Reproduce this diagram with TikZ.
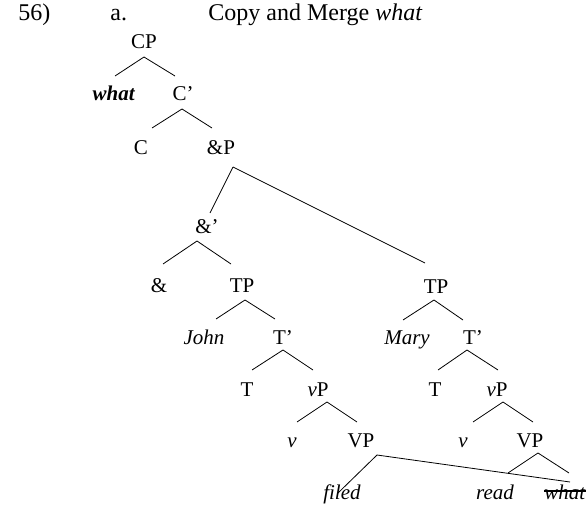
\documentclass[tikz,border=0pt]{standalone}
\usepackage{fontspec}
\setmainfont{Liberation Serif}
\usepackage{tikz}

\begin{document}
\begin{tikzpicture}[x=1pt,y=-1pt,line width=0.8pt,
  every node/.style={inner sep=0pt,anchor=base},
  head/.style={anchor=base west,font=\fontsize{24}{28}\selectfont},
  cat/.style={font=\fontsize{21}{25}\selectfont}]
\useasboundingbox (0,0) rectangle (588,505);
% heading
\path (18,21) node (num) [head] {56)};
\path (110,21) node (sub) [head] {a.};
\path (208,21) node (title) [head] {Copy and Merge \textit{what}};

% top of the tree
\path (144,49) node (cp) [cat] {CP};
\path (114,101) node (what) [cat] {\textbf{\textit{what}}};
\path (183,101) node (cbar) [cat] {C’};
\path (141,155) node (c) [cat] {C};
\path (221,155) node (andp) [cat] {\&P};
\path (207,233) node (andbar) [cat] {\&’};
\path (159,292) node (amp) [cat] {\&};

% first conjunct
\path (242,292) node (tpa) [cat] {TP};
\path (204,344) node (john) [cat] {\textit{John}};
\path (283,344) node (tbara) [cat] {T’};
\path (247,396) node (ta) [cat] {T};
\path (318,396) node (vpa) [cat] {\textit{v}P};
\path (292,447) node (va) [cat] {\textit{v}};
\path (361,447) node (vpsa) [cat] {VP};
\path (342,499) node (filed) [cat] {\textit{filed}};

% second conjunct
\path (436,293) node (tpb) [cat] {TP};
\path (407,344) node (mary) [cat] {\textit{Mary}};
\path (473,344) node (tbarb) [cat] {T’};
\path (435,396) node (tb) [cat] {T};
\path (497,396) node (vpb) [cat] {\textit{v}P};
\path (463,447) node (vb) [cat] {\textit{v}};
\path (530,447) node (vpsb) [cat] {VP};
\path (495,499) node (read) [cat] {\textit{read}};
\path (565,499) node (whatb) [cat] {\textit{what}};

\draw [line width=1.1pt] ([yshift=8pt]whatb.base west) to ([yshift=8pt]whatb.base east);

\draw ([yshift=-8pt]cp.base) to ([xshift=1pt,yshift=25pt]what.base);
\draw ([yshift=-8pt]cp.base) to ([xshift=-8pt,yshift=25pt]cbar.base);
\draw ([xshift=-1pt,yshift=-8pt]cbar.base) to ([xshift=11pt,yshift=27pt]c.base);
\draw ([xshift=-1pt,yshift=-8pt]cbar.base) to ([xshift=-9pt,yshift=27pt]andp.base);
\draw ([xshift=12pt,yshift=-12pt]andp.base) to ([xshift=3pt,yshift=20pt]andbar.base);
\draw ([xshift=12pt,yshift=-12pt]andp.base) to ([xshift=-11pt,yshift=30pt]tpb.base);
\draw ([xshift=-10pt,yshift=-8pt]andbar.base) to ([xshift=4pt,yshift=28pt]amp.base);
\draw ([xshift=-10pt,yshift=-8pt]andbar.base) to ([xshift=-11pt,yshift=28pt]tpa.base);

\draw ([xshift=3pt,yshift=-8pt]tpa.base) to ([xshift=12pt,yshift=25pt]john.base);
\draw ([xshift=3pt,yshift=-8pt]tpa.base) to ([xshift=-8pt,yshift=25pt]tbara.base);
\draw ([yshift=-6pt]tbara.base) to ([xshift=5pt,yshift=26pt]ta.base);
\draw ([yshift=-6pt]tbara.base) to ([xshift=-5pt,yshift=26pt]vpa.base);
\draw ([xshift=9pt,yshift=-6pt]vpa.base) to ([xshift=5pt,yshift=25pt]va.base);
\draw ([xshift=9pt,yshift=-6pt]vpa.base) to ([xshift=-4pt,yshift=25pt]vpsa.base);
\draw ([xshift=16pt,yshift=-8pt]vpsa.base) to ([xshift=-4pt,yshift=6pt]filed.base);
\draw ([xshift=16pt,yshift=-8pt]vpsa.base) to ([xshift=5pt,yshift=17pt]whatb.base);

\draw ([xshift=-2pt,yshift=-7pt]tpb.base) to ([xshift=-4pt,yshift=24pt]mary.base);
\draw ([xshift=-2pt,yshift=-7pt]tpb.base) to ([xshift=-10pt,yshift=24pt]tbarb.base);
\draw ([xshift=-6pt,yshift=-6pt]tbarb.base) to ([xshift=3pt,yshift=26pt]tb.base);
\draw ([xshift=-6pt,yshift=-6pt]tbarb.base) to ([xshift=1pt,yshift=26pt]vpb.base);
\draw ([xshift=6pt,yshift=-6pt]vpb.base) to ([xshift=10pt,yshift=25pt]vb.base);
\draw ([xshift=6pt,yshift=-6pt]vpb.base) to ([xshift=3pt,yshift=25pt]vpsb.base);
\draw ([xshift=8pt,yshift=-6pt]vpsb.base) to ([xshift=13pt,yshift=26pt]read.base);
\draw ([xshift=8pt,yshift=-6pt]vpsb.base) to ([xshift=4pt,yshift=26pt]whatb.base);
\end{tikzpicture}
\end{document}
